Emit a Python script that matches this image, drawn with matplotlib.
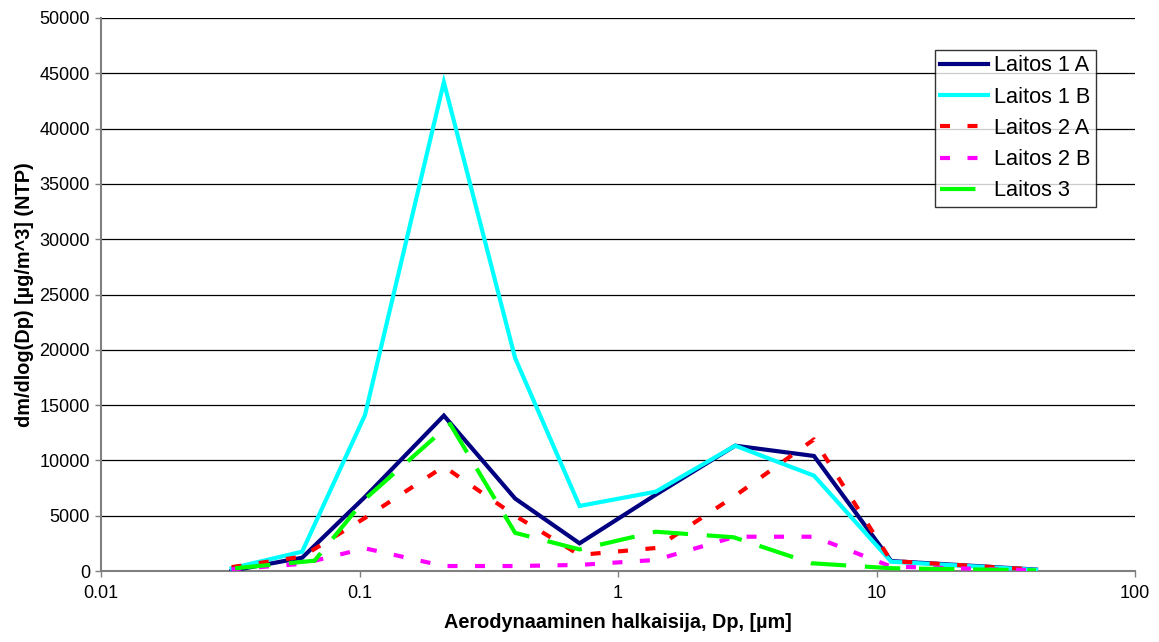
import matplotlib
matplotlib.use("Agg")
import matplotlib.pyplot as plt
from matplotlib.ticker import FixedLocator, NullLocator

plt.rcParams['font.family'] = ['Liberation Sans', 'DejaVu Sans']

# Impactor stage diameters (µm)
dp = [0.032, 0.060, 0.105, 0.212, 0.40, 0.71, 1.40, 2.84, 5.73, 11.4, 41.4]
dp_laitos3 = [0.033, 0.067, 0.105, 0.224, 0.40, 0.71, 1.40, 2.80, 5.60, 11.4, 41.4]

# dm/dlog(Dp) [µg/m^3] (NTP)
laitos_1a = [30, 1200, 6700, 14050, 6550, 2500, 6900, 11330, 10400, 900, 130]
laitos_1b = [250, 1750, 14100, 44200, 19250, 5880, 7170, 11330, 8620, 840, 100]
laitos_2a = [350, 1300, 4800, 9450, 5000, 1450, 2080, 6800, 11900, 900, 120]
laitos_2b = [150, 650, 2050, 450, 450, 550, 1000, 3100, 3100, 400, 60]
laitos_3 = [250, 930, 6500, 13300, 3450, 1950, 3550, 3050, 700, 250, 60]

series_names = ["Laitos 1 A", "Laitos 1 B", "Laitos 2 A", "Laitos 2 B", "Laitos 3"]
y_ticks = list(range(0, 50001, 5000))
x_ticks = [0.01, 0.1, 1, 10, 100]
x_tick_labels = ["0.01", "0.1", "1", "10", "100"]

W, H = 1159, 642
fig = plt.figure(figsize=(W / 100, H / 100), dpi=100)
ax = fig.add_axes([101 / W, (H - 571) / H, (1135 - 101) / W, (571 - 18) / H])

lw = 3.0
ax.plot(dp, laitos_1a, color="#000080", lw=lw, label=series_names[0], zorder=3,
        solid_joinstyle="miter")
ax.plot(dp, laitos_1b, color="#00FFFF", lw=lw, label=series_names[1], zorder=4,
        solid_joinstyle="miter")
ax.plot(dp, laitos_2a, color="#FF0000", lw=lw, label=series_names[2], zorder=5,
        linestyle=(0, (2.4, 4.2)), dash_capstyle="butt")
ax.plot(dp, laitos_2b, color="#FF00FF", lw=lw, label=series_names[3], zorder=6,
        linestyle=(0, (2.4, 4.2)), dash_capstyle="butt")
ax.plot(dp_laitos3, laitos_3, color="#00FF00", lw=lw, label=series_names[4], zorder=7,
        linestyle=(0, (8.5, 4.5)), dash_capstyle="butt")

ax.set_xscale("log")
ax.set_xlim(0.01, 100)
ax.set_ylim(0, 50000)
ax.xaxis.set_major_locator(FixedLocator(x_ticks))
ax.xaxis.set_minor_locator(NullLocator())
ax.set_xticklabels(x_tick_labels)
ax.set_yticks(y_ticks)
ax.set_yticklabels([str(v) for v in y_ticks])

ax.yaxis.grid(True, color="black", linewidth=0.9, zorder=1)
ax.set_axisbelow(True)

for side in ("top", "right"):
    ax.spines[side].set_visible(False)
ax.spines["left"].set_color("#808080")
ax.spines["left"].set_linewidth(1.5)
ax.spines["bottom"].set_color("#808080")
ax.spines["bottom"].set_linewidth(1.5)

ax.tick_params(axis="both", direction="out", length=4, width=1, colors="#808080",
               labelcolor="black", labelsize=13, pad=4)
ax.tick_params(axis="x", pad=6)

ax.set_xlabel("Aerodynaaminen halkaisija, Dp, [µm]", fontsize=14.3, fontweight="bold",
              labelpad=8)
ax.set_ylabel("dm/dlog(Dp) [µg/m^3] (NTP)", fontsize=14.3, fontweight="bold", labelpad=4)

leg = ax.legend(loc="upper left", bbox_to_anchor=((935 - 101) / (1135 - 101), (571 - 50) / 553),
                fontsize=15.7, frameon=True, fancybox=False, handlelength=2.2,
                handletextpad=0.25, borderpad=0.25, labelspacing=0.47, borderaxespad=0)
leg.get_frame().set_edgecolor("black")
leg.get_frame().set_linewidth(1.0)
leg.set_zorder(10)

fig.savefig("out.png", dpi=100)
